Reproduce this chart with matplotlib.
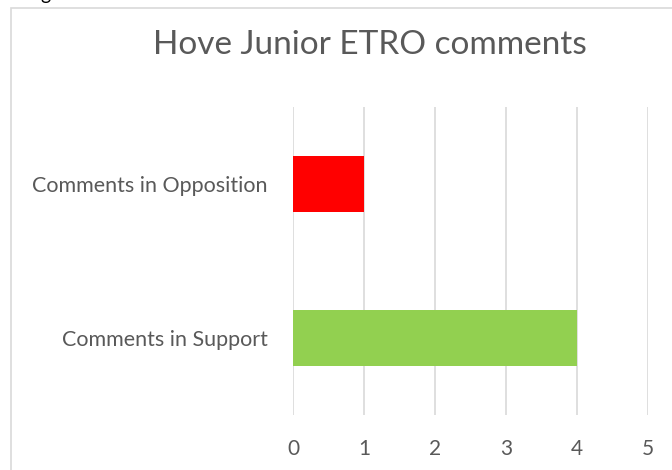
import matplotlib
matplotlib.use('Agg')
import matplotlib.pyplot as plt
from matplotlib.patches import Rectangle

categories = ['Comments in Support', 'Comments in Opposition']
counts = [4, 1]
bar_colors = ['#92D050', '#FF0000']
x_ticks = [0, 1, 2, 3, 4, 5]

plt.rcParams['font.family'] = ['Lato', 'DejaVu Sans']

fig = plt.figure(figsize=(6.72, 4.70), dpi=100)
ax = fig.add_axes([0.436, 0.117, 0.528, 0.655])

ax.barh(range(len(categories)), counts, height=0.36, color=bar_colors, zorder=3)
ax.set_xlim(0, 5)
ax.set_ylim(-0.5, 1.5)
ax.set_xticks(x_ticks)
ax.set_xticklabels([str(t) for t in x_ticks], fontsize=15, color='#595959')
ax.set_yticks(range(len(categories)))
ax.set_yticklabels(categories, fontsize=15.5, color='#595959')
ax.tick_params(axis='both', length=0)
ax.tick_params(axis='x', pad=17)
ax.tick_params(axis='y', pad=18)
ax.grid(axis='x', color='#d9d9d9', linewidth=1.2, zorder=0)
for s in ax.spines.values():
    s.set_visible(False)

fig.text(0.551, 0.904, 'Hove Junior ETRO comments', ha='center', va='center',
         fontsize=24, color='#595959')

# cut-off text above the chart (from the source page), only the descender shows
fig.text(0.06, 1.012, 'g', ha='left', va='center', fontsize=14, color='black')

# chart frame
fig.patches.append(Rectangle((11 / 672, -0.1), 1.2, 1 - 8 / 470 + 0.1,
                             transform=fig.transFigure, fill=False,
                             edgecolor='#d9d9d9', linewidth=1.2))

fig.savefig('out.png', dpi=100)
